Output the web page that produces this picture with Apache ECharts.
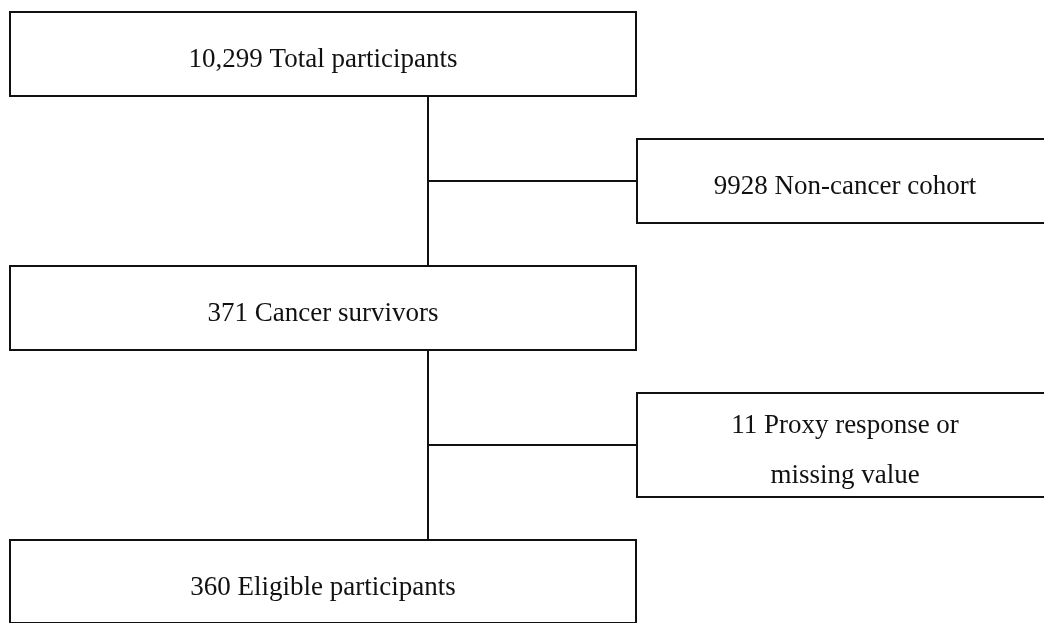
<!DOCTYPE html>
<html>
<head>
<meta charset="utf-8">
<script src="https://cdn.jsdelivr.net/npm/echarts@6/dist/echarts.min.js"></script>
<style>
  html, body { margin: 0; padding: 0; background: #fff; }
  #chart { width: 1044px; height: 623px; }
</style>
</head>
<body>
<div id="chart"></div>
<script>
// flow steps (counts as printed in the figure)
var stepCounts = ['10,299', '9928', '371', '11', '360'];
var stepNames = [
  'Total participants',
  'Non-cancer cohort',
  'Cancer survivors',
  'Proxy response or\nmissing value',
  'Eligible participants'
];

// box layout in page pixels: [x0, y0, x1, y1]
var boxLayout = [
  [10, 12, 636, 96],
  [637, 139, 1053, 223],
  [10, 266, 636, 350],
  [637, 393, 1053, 497],
  [10, 540, 636, 623]
];
// connectors: [x0, y0, x1, y1]
var links = [
  [428, 96, 428, 266],
  [428, 181, 637, 181],
  [428, 350, 428, 540],
  [428, 445, 637, 445]
];

var INK = '#111';
var chart = echarts.init(document.getElementById('chart'));

function boxItem(params, api) {
  var i = api.value(0);
  var b = boxLayout[i];
  var p0 = api.coord([b[0], b[1]]);
  var p1 = api.coord([b[2], b[3]]);
  var text = stepCounts[i] + ' ' + stepNames[i];
  return {
    type: 'group',
    children: [
      {
        type: 'rect',
        shape: { x: p0[0], y: p0[1], width: p1[0] - p0[0], height: p1[1] - p0[1] },
        style: { fill: '#fff', stroke: INK, lineWidth: 2 }
      },
      {
        type: 'text',
        style: {
          text: text,
          x: (p0[0] + p1[0]) / 2,
          y: (p0[1] + p1[1]) / 2 + 6,
          align: 'center',
          verticalAlign: 'middle',
          fill: INK,
          font: '27px "Liberation Serif"',
          lineHeight: 50
        }
      }
    ]
  };
}

function linkItem(params, api) {
  var l = links[api.value(0)];
  var a = api.coord([l[0], l[1]]);
  var b = api.coord([l[2], l[3]]);
  return {
    type: 'line',
    shape: { x1: a[0], y1: a[1], x2: b[0], y2: b[1] },
    style: { stroke: INK, lineWidth: 2 }
  };
}

chart.setOption({
  animation: false,
  grid: { left: 0, right: 0, top: 0, bottom: 0 },
  xAxis: { type: 'value', min: 0, max: 1044, show: false },
  yAxis: { type: 'value', min: 0, max: 623, inverse: true, show: false },
  series: [
    {
      type: 'custom',
      renderItem: linkItem,
      silent: true,
      clip: false,
      data: links.map(function (l, i) { return [i]; })
    },
    {
      type: 'custom',
      renderItem: boxItem,
      silent: true,
      clip: false,
      data: boxLayout.map(function (b, i) { return [i]; })
    }
  ]
});
</script>
</body>
</html>
